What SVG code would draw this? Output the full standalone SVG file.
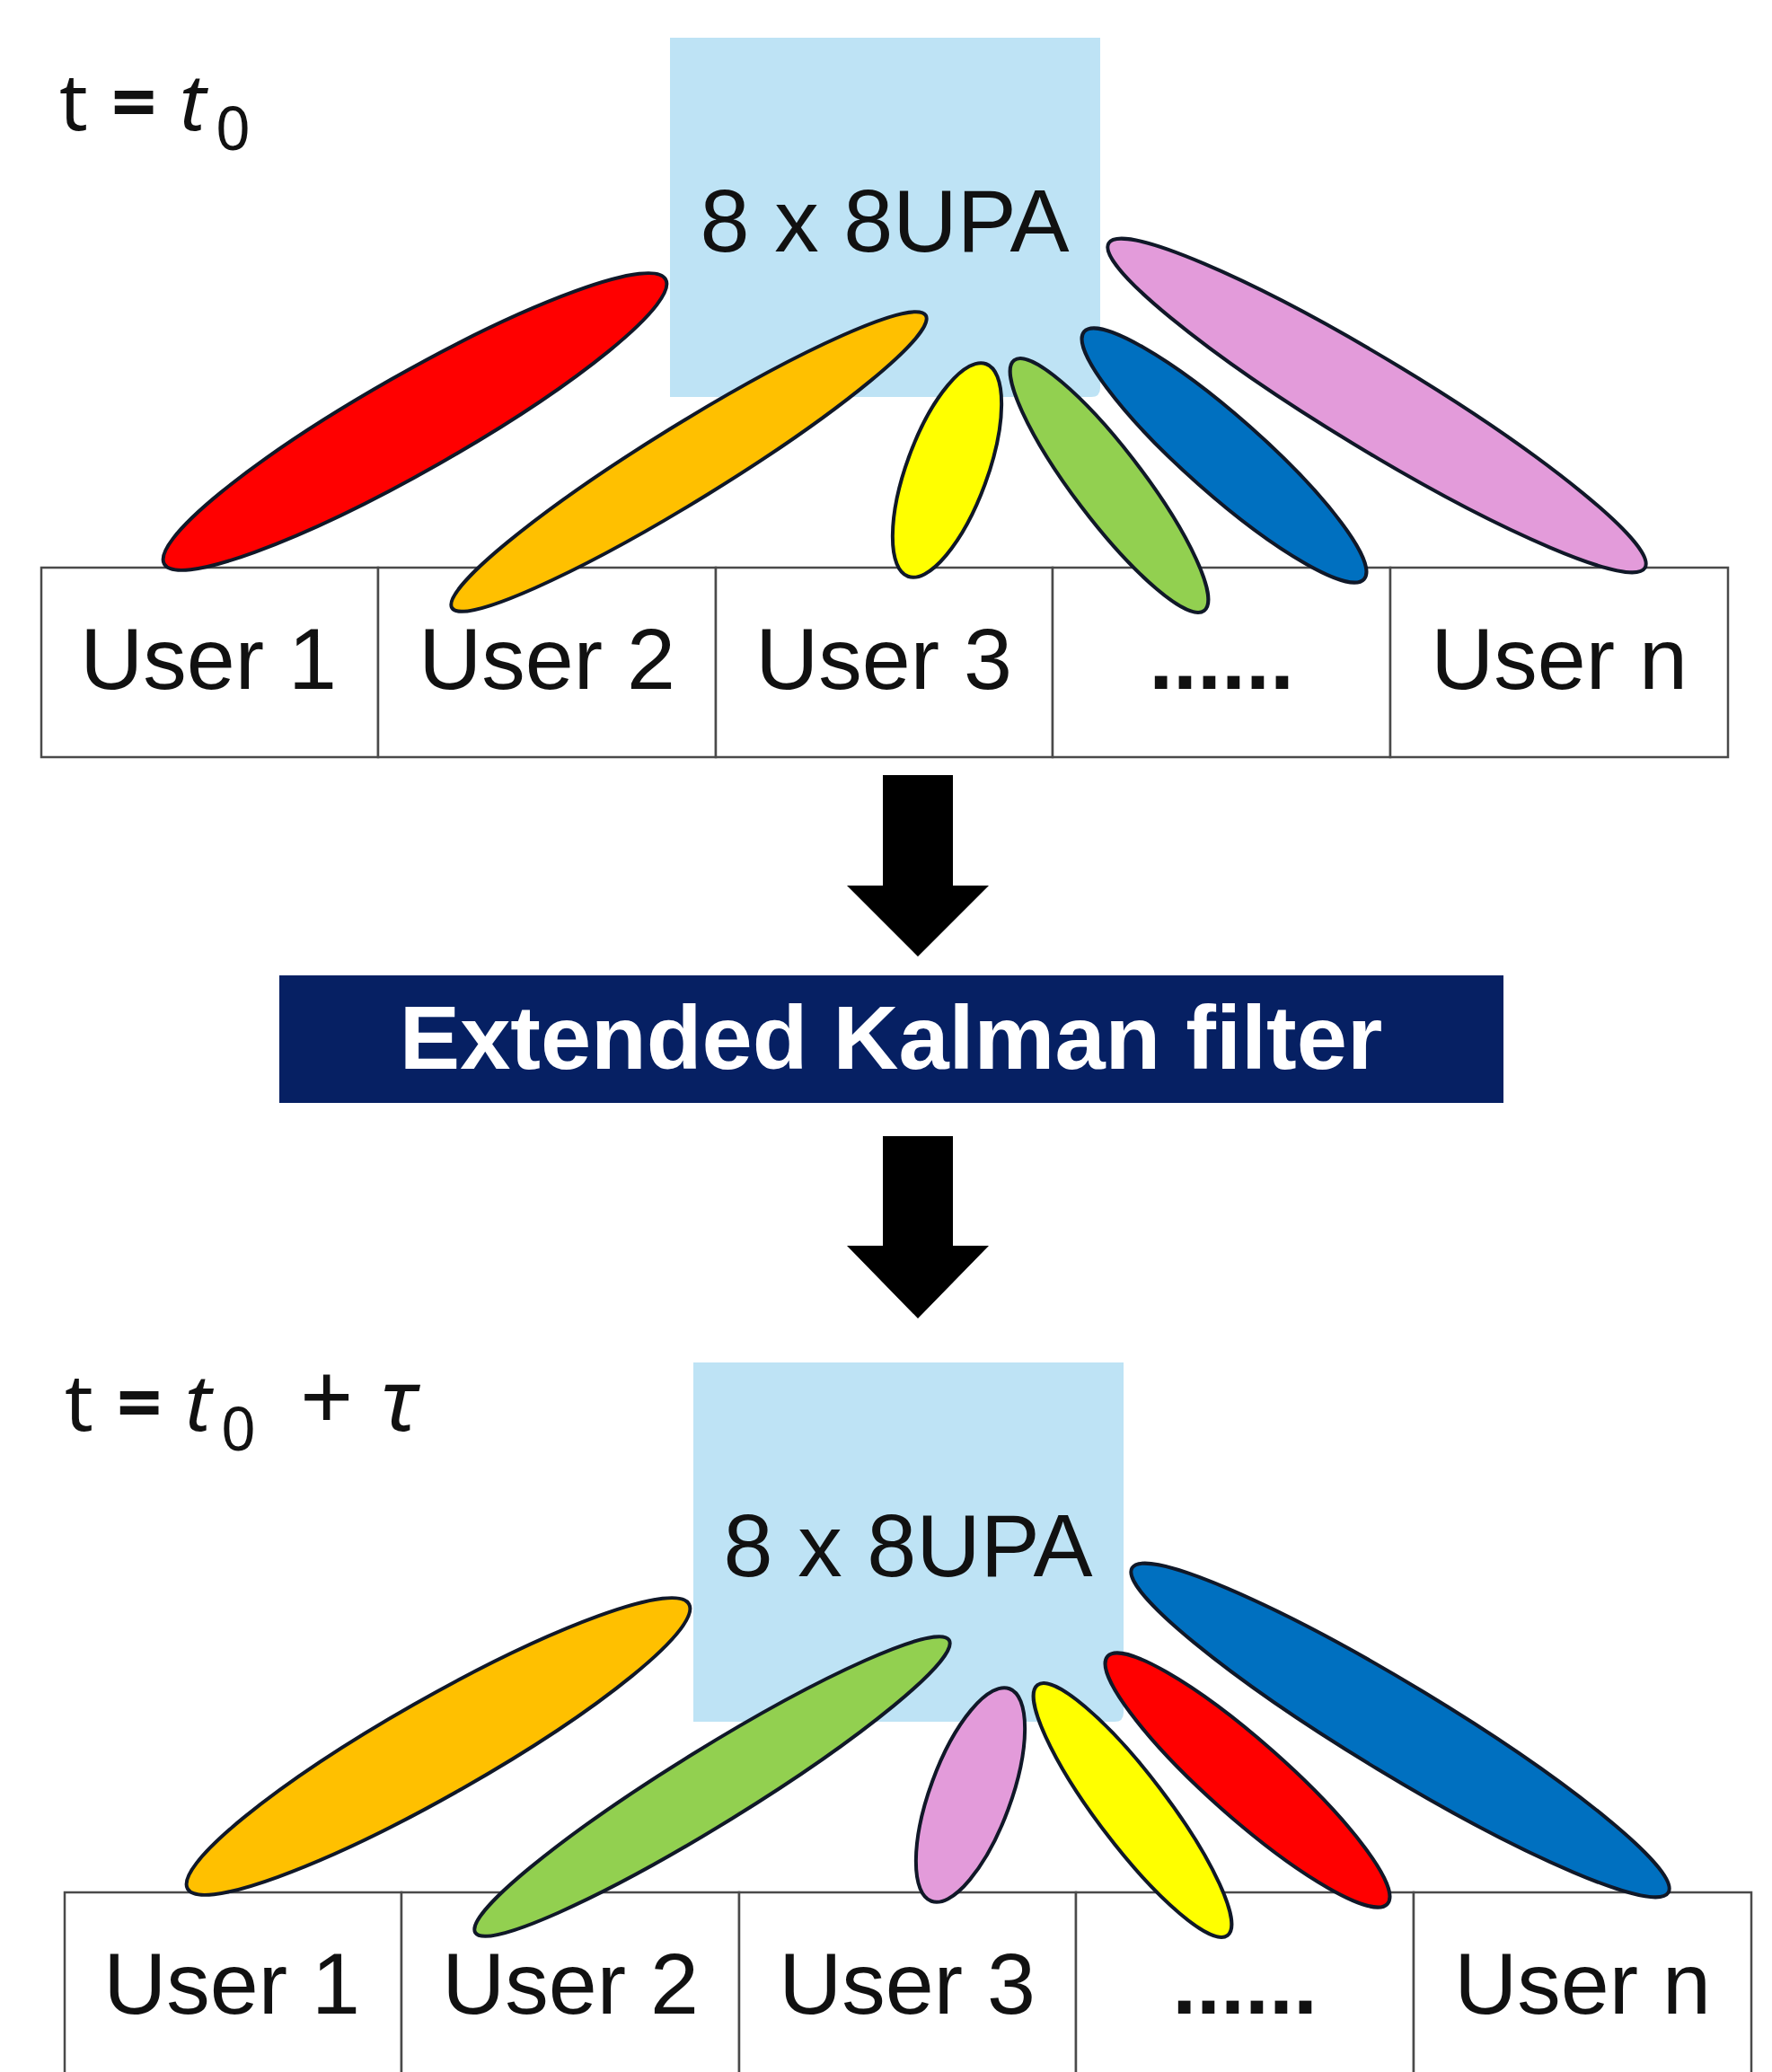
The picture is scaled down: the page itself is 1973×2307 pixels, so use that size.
<svg xmlns="http://www.w3.org/2000/svg" width="1973" height="2307" viewBox="0 0 1973 2307">
<style>
.bg{fill:#ffffff}
.upa{fill:#BEE3F5}
.upat{font-family:"Liberation Sans",Arial,sans-serif;font-size:99px;fill:#111;text-anchor:middle}
.cell{fill:#ffffff;stroke:#4a4a4a;stroke-width:2.5}
.ut{font-family:"Liberation Sans",Arial,sans-serif;font-size:97px;fill:#111;text-anchor:middle}
.beam{stroke:#101828;stroke-width:4}
.lbl{font-family:"Noto Sans","DejaVu Sans",sans-serif;font-size:88px;fill:#111}
.it{font-style:italic}
.eq{font-weight:bold}
.ekf{fill:#062063}
.ekft{font-family:"Liberation Sans",Arial,sans-serif;font-weight:bold;font-size:101px;fill:#ffffff;text-anchor:middle}
.arr{fill:#000000}
</style>
<rect class="bg" x="0" y="0" width="1973" height="2307"/>

<!-- Top section -->
<g id="label-t0">
<text class="lbl" y="145"><tspan x="66">t</tspan><tspan x="124" class="eq">=</tspan><tspan x="200" class="it">t</tspan><tspan x="240" y="167" font-size="68">0</tspan></text>
</g>

<g id="users-top">
<rect class="cell" x="46" y="632" width="375" height="211"/>
<rect class="cell" x="421" y="632" width="376" height="211"/>
<rect class="cell" x="797" y="632" width="375" height="211"/>
<rect class="cell" x="1172" y="632" width="376" height="211"/>
<rect class="cell" x="1548" y="632" width="376" height="211"/>
<text class="ut" x="232" y="767">User 1</text>
<text class="ut" x="609" y="767">User 2</text>
<text class="ut" x="984" y="767">User 3</text>
<text class="ut" x="1360" y="767" font-weight="bold">......</text>
<text class="ut" x="1736" y="767">User n</text>
</g>

<g id="upa-top">
<path class="upa" d="M746 42 H1225 V432 Q1225 442 1215 442 H746 Z"/>
<text class="upat" x="985" y="280">8 x 8UPA</text>
</g>

<g id="beams-top">
<ellipse class="beam" fill="#FF0000" cx="462" cy="469.5" rx="321" ry="54" transform="rotate(-29.6 462 469.5)"/>
<ellipse class="beam" fill="#FFC000" cx="767" cy="514" rx="310" ry="42" transform="rotate(-31.7 767 514)"/>
<ellipse class="beam" fill="#FFFF00" cx="1054.5" cy="523.5" rx="126" ry="45" transform="rotate(-69.8 1054.5 523.5)"/>
<ellipse class="beam" fill="#92D050" cx="1235" cy="540.5" rx="175" ry="39" transform="rotate(52.8 1235 540.5)"/>
<ellipse class="beam" fill="#0070C0" cx="1363" cy="507" rx="208" ry="43" transform="rotate(41.5 1363 507)"/>
<ellipse class="beam" fill="#E39BDA" cx="1533" cy="451.5" rx="349" ry="50" transform="rotate(31.2 1533 451.5)"/>
</g>

<g id="ekf">
<rect class="ekf" x="311" y="1086" width="1363" height="142"/>
<text class="ekft" x="992" y="1190">Extended Kalman filter</text>
</g>

<g id="connectors">
<polygon class="arr" points="983,863 1061,863 1061,986 1101,986 1022,1065 943,986 983,986"/>
<polygon class="arr" points="983,1265 1061,1265 1061,1387 1101,1387 1022,1468 943,1387 983,1387"/>
</g>

<!-- Bottom section -->
<g id="label-t0-tau">
<text class="lbl" y="1593"><tspan x="72">t</tspan><tspan x="130" class="eq">=</tspan><tspan x="206" class="it">t</tspan><tspan x="246" y="1615" font-size="68">0</tspan><tspan x="334" y="1593" font-size="104">+</tspan><tspan x="424" font-size="96" class="it">τ</tspan></text>
</g>

<g id="users-bottom">
<rect class="cell" x="72" y="2107" width="375" height="211"/>
<rect class="cell" x="447" y="2107" width="376" height="211"/>
<rect class="cell" x="823" y="2107" width="375" height="211"/>
<rect class="cell" x="1198" y="2107" width="376" height="211"/>
<rect class="cell" x="1574" y="2107" width="376" height="211"/>
<text class="ut" x="258" y="2242">User 1</text>
<text class="ut" x="635" y="2242">User 2</text>
<text class="ut" x="1010" y="2242">User 3</text>
<text class="ut" x="1386" y="2242" font-weight="bold">......</text>
<text class="ut" x="1762" y="2242">User n</text>
</g>

<g id="upa-bottom">
<path class="upa" d="M772 1517 H1251 V1907 Q1251 1917 1241 1917 H772 Z"/>
<text class="upat" x="1011" y="1755">8 x 8UPA</text>
</g>

<g id="beams-bottom">
<ellipse class="beam" fill="#FFC000" cx="488" cy="1944.5" rx="321" ry="54" transform="rotate(-29.6 488 1944.5)"/>
<ellipse class="beam" fill="#92D050" cx="793" cy="1989" rx="310" ry="42" transform="rotate(-31.7 793 1989)"/>
<ellipse class="beam" fill="#E39BDA" cx="1080.5" cy="1998.5" rx="126" ry="45" transform="rotate(-69.8 1080.5 1998.5)"/>
<ellipse class="beam" fill="#FFFF00" cx="1261" cy="2015.5" rx="175" ry="39" transform="rotate(52.8 1261 2015.5)"/>
<ellipse class="beam" fill="#FF0000" cx="1389" cy="1982" rx="208" ry="43" transform="rotate(41.5 1389 1982)"/>
<ellipse class="beam" fill="#0070C0" cx="1559" cy="1926.5" rx="349" ry="50" transform="rotate(31.2 1559 1926.5)"/>
</g>
</svg>
